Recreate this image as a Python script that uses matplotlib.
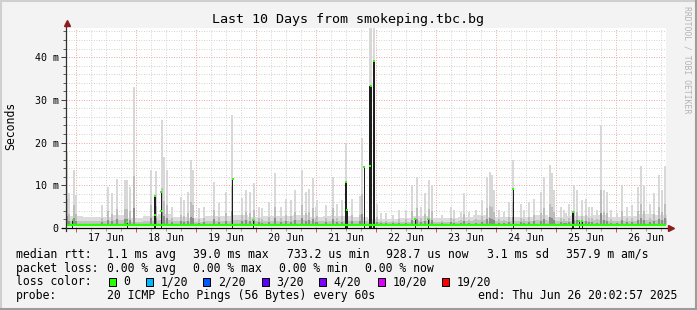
import numpy as np
import matplotlib
matplotlib.use("Agg")
import matplotlib.pyplot as plt
from matplotlib.lines import Line2D
from matplotlib.patches import Rectangle

W, H = 697, 310

# time axis: hours since 17 Jun 00:00; graph spans 16 Jun 20:03 -> 26 Jun 20:03
t_start, t_end = -3.95, 236.05
y_top = 46.8  # ms

day_labels = ["17 Jun", "18 Jun", "19 Jun", "20 Jun", "21 Jun",
              "22 Jun", "23 Jun", "24 Jun", "25 Jun", "26 Jun"]
y_ticks = [0, 10, 20, 30, 40]
y_labels = ["0", "10 m", "20 m", "30 m", "40 m"]

# median rtt (ms), loss 0 all the time
median_h = [t_start, t_end]
median_ms = [0.8, 0.8]

# low dense smoke envelope every 6 hours (ms)
floor_h = np.arange(-6, 241, 6)
floor_ms = [3.0, 2.8, 2.5, 2.6, 3.0, 2.4, 2.8, 3.2, 2.6, 2.4, 2.7, 2.8, 3.0, 2.6,
            2.7, 2.9, 3.0, 2.6, 2.8, 2.9, 2.6, 2.2, 2.1, 2.4, 2.8, 2.3, 2.4, 2.5,
            3.0, 2.6, 2.5, 2.6, 3.0, 2.6, 2.9, 2.8, 3.0, 2.5, 2.8, 3.2, 3.0, 3.0]

# smoke spikes: hour, highest ping (ms)
spike_h = [-3.4, -2.6, -0.9, -0.1, 10.3, 13.0, 14.6, 16.6, 19.7, 20.5, 21.8, 23.2,
           29.9, 31.9, 34.3, 35.3, 36.6, 38.6, 41.9, 43.3, 45.0, 45.9, 47.0, 49.3,
           51.3, 55.3, 57.3, 59.9, 62.6, 66.3, 67.9, 69.5, 71.3, 73.3, 74.6, 77.3,
           79.7, 81.9, 83.9, 85.9, 87.7, 90.3, 91.9, 93.3, 94.9, 95.9, 96.6, 99.9,
           102.9, 104.6, 106.6, 107.9, 110.6, 113.5, 114.6, 117.6, 118.2, 119.4,
           120.6, 121.9, 123.9, 126.9, 129.3, 131.9, 134.3, 136.3, 137.9, 139.7,
           141.3, 142.6, 146.6, 149.9, 151.3, 153.9, 155.3, 157.3, 159.9, 162.6,
           164.6, 165.5, 166.3, 167.3, 169.3, 171.3, 173.3, 175.0, 177.9, 179.3,
           181.3, 183.3, 185.9, 187.3, 189.5, 190.3, 191.3, 193.9, 195.3, 195.9,
           197.3, 199.3, 200.6, 202.3, 203.9, 205.3, 206.6, 208.6, 209.9, 211.3,
           212.6, 213.9, 216.6, 218.6, 220.6, 222.6, 225.0, 225.9, 227.3, 229.5,
           231.3, 233.3, 234.6, 235.6]
spike_ms = [17.9, 8.2, 13.6, 7.7, 5.4, 9.7, 8.2, 11.4, 11.2, 11.2, 9.7, 33.0,
            13.6, 13.3, 25.3, 16.7, 13.6, 5.0, 7.3, 6.6, 8.5, 15.9, 13.6, 4.7,
            5.0, 10.8, 5.8, 8.5, 26.5, 7.0, 8.9, 8.5, 10.5, 5.0, 4.7, 6.2,
            12.8, 5.0, 6.9, 6.6, 8.9, 13.6, 8.5, 9.2, 11.6, 5.0, 6.5, 5.3,
            12.0, 5.5, 6.5, 19.8, 6.9, 7.5, 21.0, 47.0, 47.0, 47.0,
            5.6, 3.5, 3.5, 3.0, 4.2, 4.2, 10.0, 12.0, 5.0, 8.1,
            11.2, 10.0, 3.0, 5.0, 4.2, 3.8, 8.1, 3.8, 4.2, 6.5,
            12.0, 13.2, 12.4, 8.9, 4.2, 3.8, 6.1, 16.0, 5.5, 4.2,
            6.0, 6.9, 8.5, 12.0, 14.8, 12.8, 8.9, 5.0, 4.2, 3.5,
            5.5, 10.0, 8.9, 6.5, 6.9, 5.0, 5.0, 4.2, 24.0, 8.9,
            8.5, 4.2, 3.5, 10.0, 5.0, 5.3, 9.7, 14.4, 10.0, 5.5,
            8.1, 12.4, 8.9, 14.4]

# dense (all pings high) episodes: hour, top (ms), duration (h)
burst_h = [-1.3, 20.6, 31.6, 34.2, 62.7, 71.0, 108.0, 108.8, 115.4, 117.9,
           119.4, 135.8, 141.0, 175.0, 198.9, 201.4, 202.6]
burst_ms = [1.9, 1.5, 7.5, 8.4, 11.4, 1.8, 10.8, 4.2, 14.3, 33.3,
            39.0, 2.0, 2.0, 9.1, 3.8, 1.6, 1.6]
burst_len = [0.4, 0.4, 0.6, 0.6, 0.6, 0.4, 0.6, 0.4, 0.6, 1.2,
             0.8, 0.4, 0.4, 0.6, 0.6, 0.4, 0.4]

# median samples shown as loss-colour dots on the bursts
dot_h = [-1.3, 20.6, 31.6, 31.6, 34.2, 34.2, 62.7, 71.0, 108.0, 108.6, 115.4,
         117.6, 118.2, 119.4, 135.8, 141.0, 175.0, 198.9, 201.4, 202.6]
dot_ms = [1.9, 1.5, 7.5, 3.0, 8.4, 4.0, 11.4, 1.8, 10.8, 4.2, 14.3,
          14.4, 33.3, 39.0, 2.0, 2.0, 9.1, 3.8, 1.6, 1.6]

loss_labels = ["0", "1/20", "2/20", "3/20", "4/20", "10/20", "19/20"]
loss_colors = ["#26ff00", "#00b8ff", "#0059ff", "#5e00ff", "#7e00ff", "#dd00ff", "#ff0000"]

rtt_stats = ["1.1 ms avg", "39.0 ms max", "733.2 us min", "928.7 us now",
             "3.1 ms sd", "357.9 m am/s"]
loss_stats = ["0.00 % avg", "0.00 % max", "0.00 % min", "0.00 % now"]
probe_text = "20 ICMP Echo Pings (56 Bytes) every 60s"
end_text = "end: Thu Jun 26 20:02:57 2025"


def fx(x):
    return x / W


def fy(y):
    return 1 - y / H


plt.rcParams['font.family'] = ['DejaVu Sans Mono']
fig = plt.figure(figsize=(W / 100, H / 100), dpi=100, facecolor="#f3f3f3")

ax = fig.add_axes([fx(66), fy(228), 600 / W, 200 / H])
ax.set_facecolor("white")
ax.set_xlim(t_start, t_end)
ax.set_ylim(0, y_top)
for s in ax.spines.values():
    s.set_visible(False)

# grid
ax.set_xticks(np.arange(0, 240, 24))
ax.set_xticks(np.arange(0, 240, 6), minor=True)
ax.set_yticks(y_ticks, y_labels)
ax.set_yticks(np.arange(0, 47, 2), minor=True)
ax.set_axisbelow(True)
ax.grid(which="minor", color="#d4d4d4", ls=(0, (1, 1.5)), lw=0.72)
ax.grid(which="major", color="#f0aaaa", ls=(0, (1, 1.5)), lw=0.72)
ax.tick_params(axis="x", which="major", length=3, width=0.72, color="#d05050", labelbottom=False)
ax.tick_params(axis="x", which="minor", length=2, width=0.72, color="#a0a0a0")
ax.tick_params(axis="y", which="major", length=3.5, width=0.72, color="#404040",
               pad=1.8, labelsize=7.2)
ax.tick_params(axis="y", which="minor", length=2, width=0.72, color="#606060")
for i, lab in enumerate(day_labels):
    ax.text(12 + 24 * i, -0.05, lab, transform=ax.get_xaxis_transform(),
            ha="center", va="center", fontsize=7.2)

# smoke
fh = np.asarray(floor_h, float)
fm = np.asarray(floor_ms, float)
med = median_ms[0]
ax.fill_between(fh, med, fm, step="mid", color="#dcdcdc", lw=0)
ax.fill_between(fh, med, med + (fm - med) * 0.45, step="mid", color="#c2c2c2", lw=0)
sh = np.asarray(spike_h)
sm = np.asarray(spike_ms)
ax.bar(sh, sm - med, bottom=med, width=0.8, color="#d8d8d8", lw=0)
ax.bar(sh, (sm - med) * 0.35, bottom=med, width=0.8, color="#bdbdbd", lw=0)
ax.bar(sh, (sm - med) * 0.12, bottom=med, width=0.8, color="#8c8c8c", lw=0)

# bursts
ax.bar(burst_h, burst_ms, width=burst_len, color="#1e1e1e", lw=0)

# median line + dots
ax.plot(median_h, median_ms, color=loss_colors[0], lw=1.7, solid_capstyle="butt")
ax.scatter(dot_h, dot_ms, marker="s", s=4, color=loss_colors[0], lw=0, zorder=5)

# axes lines with arrows
ax.plot([-4 / 600, 604 / 600], [0, 0], transform=ax.transAxes, color="black",
        lw=0.9, clip_on=False, zorder=6)
ax.plot([0, 0], [-3 / 200, 1.025], transform=ax.transAxes, color="#303030",
        lw=0.9, clip_on=False, zorder=6)
ax.plot([1.0083], [0], transform=ax.transAxes, marker=">", ms=4.5, color="#8e1c1c",
        clip_on=False, zorder=7)
ax.plot([0.001], [1.025], transform=ax.transAxes, marker="^", ms=4.5, color="#8e1c1c",
        clip_on=False, zorder=7)

# title, axis label, watermark
fig.text(fx(347.5), fy(19), "Last 10 Days from smokeping.tbc.bg", ha="center",
         va="center", fontsize=9.6)
fig.text(fx(10.5), fy(126), "Seconds", rotation=90, ha="center", va="center",
         fontsize=8.3)
fig.text(fx(687), fy(60), "RRDTOOL / TOBI OETIKER", rotation=270, ha="center",
         va="center", fontsize=5.9, color="#b4b4b4")

# legend
fs = 8.3
rows = [254.3, 268.3, 281.7, 295.7]
fig.text(fx(16), fy(rows[0]), "median rtt:", va="center", fontsize=fs)
for x, t in zip([106.7, 193.3, 286.7, 386, 486.7, 565.7], rtt_stats):
    fig.text(fx(x), fy(rows[0]), t, va="center", fontsize=fs)
fig.text(fx(16), fy(rows[1]), "packet loss:", va="center", fontsize=fs)
for x, t in zip([106.7, 193.3, 279.3, 365], loss_stats):
    fig.text(fx(x), fy(rows[1]), t, va="center", fontsize=fs)
fig.text(fx(16), fy(rows[2]), "loss color:", va="center", fontsize=fs)
box_x = [109, 145.7, 203.3, 261.7, 319.3, 377.7, 442.3]
for x, lab, c in zip(box_x, loss_labels, loss_colors):
    fig.patches.append(Rectangle((fx(x), fy(rows[2] + 4)), 7 / W, 8 / H,
                                 transform=fig.transFigure, facecolor=c,
                                 edgecolor="black", lw=0.72))
    fig.text(fx(x + 14.5), fy(rows[2]), lab, va="center", fontsize=fs)
fig.text(fx(16), fy(rows[3]), "probe:", va="center", fontsize=fs)
fig.text(fx(106.7), fy(rows[3]), probe_text, va="center", fontsize=fs)
fig.text(fx(478.3), fy(rows[3]), end_text, va="center", fontsize=fs)

# 3d frame
fig.lines.append(Line2D([0, 1], [fy(1), fy(1)], transform=fig.transFigure, color="#cfcfcf", lw=1.5))
fig.lines.append(Line2D([fx(1), fx(1)], [0, 1], transform=fig.transFigure, color="#cfcfcf", lw=1.5))
fig.lines.append(Line2D([0, 1], [fy(H - 1), fy(H - 1)], transform=fig.transFigure, color="#9c9c9c", lw=1.5))
fig.lines.append(Line2D([fx(W - 1), fx(W - 1)], [0, 1], transform=fig.transFigure, color="#9c9c9c", lw=1.5))

fig.savefig("out.png", dpi=100, facecolor=fig.get_facecolor())
